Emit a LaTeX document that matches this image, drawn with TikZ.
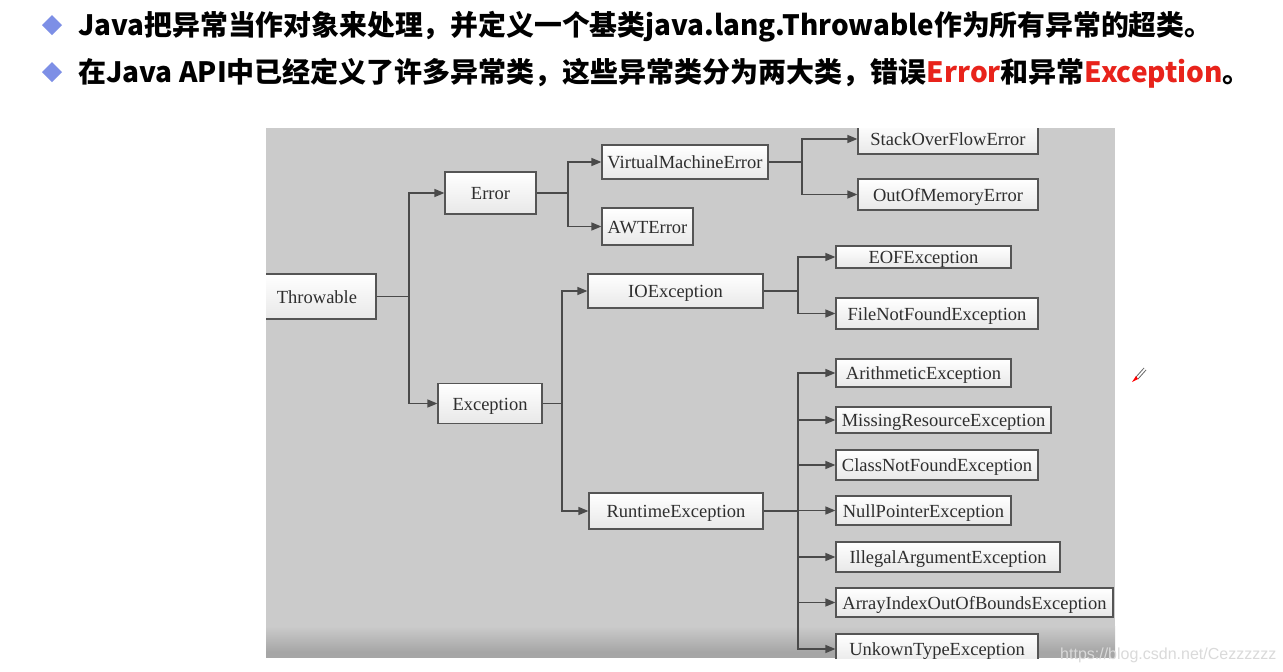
\documentclass[tikz,border=0pt]{standalone}
\usepackage{fontspec}
\setmainfont{Liberation Serif}
\newfontfamily\cjk{Noto Sans CJK SC}
\newfontfamily\wm{Liberation Sans}
\usetikzlibrary{arrows.meta}
\definecolor{panel}{HTML}{CBCBCB}
\definecolor{boxline}{HTML}{555555}
\definecolor{boxbot}{HTML}{E8E8E8}
\definecolor{boxtext}{HTML}{2E2E2E}
\definecolor{linec}{HTML}{4A4A4A}
\definecolor{dia}{HTML}{7D8FE6}
\definecolor{errred}{HTML}{E8231B}
\definecolor{wmc}{HTML}{DADADA}
\tikzset{
  box/.style={draw=boxline, line width=1.2pt, top color=white, bottom color=boxbot,
    inner sep=0pt, font=\fontsize{18.5}{20}\selectfont, text=boxtext, anchor=center,
    text height=15pt, text depth=2pt},
  conn/.style={draw=linec, line width=1.4pt},
  arr/.style={conn, -{Triangle[length=10pt,width=8pt]}},
  headline/.style={anchor=base west, inner sep=0pt, font=\cjk\bfseries\fontsize{28}{30}\selectfont},
  bullet/.style={fill=dia, draw=none},
}
\begin{document}
\begin{tikzpicture}[x=1pt,y=-1pt]
\useasboundingbox (0,0) rectangle (1283,672);
\fill[white] (0,0) rectangle (1283,672);
% header
\fill[bullet] (52,15) -- (62,25) -- (52,35) -- (42,25) -- cycle;
\fill[bullet] (52,62) -- (62,72) -- (52,82) -- (42,72) -- cycle;
\node[headline, xscale=0.994] (l1) at (78,35) {Java把异常当作对象来处理，并定义一个基类java.lang.Throwable作为所有异常的超类。};
\node[headline] (l2) at (78,82) {在Java API中已经定义了许多异常类，这些异常类分为两大类，错误{\color{errred}Error}和异常{\color{errred}Exception}。};
% panel
\fill[panel] (266,128) rectangle (1115,658);
\shade[top color=panel, bottom color=black!35] (266,626) rectangle (1115,652);
\fill[black!35] (266,652) rectangle (1115,658);
\begin{scope}
\clip (266,128) rectangle (1115,658);
\node[box, minimum width=118pt, minimum height=45pt] (thr) at (317,296.5) {Throwable};
\node[box, minimum width=91pt, minimum height=42pt] (err) at (490.5,193) {Error};
\node[box, minimum width=104pt, minimum height=40pt] (exc) at (490,403.5) {Exception};
\node[box, minimum width=166pt, minimum height=34pt] (vme) at (685,162) {VirtualMachineError};
\node[box, minimum width=91pt, minimum height=37pt] (awt) at (647.5,226.5) {AWTError};
\node[box, minimum width=175pt, minimum height=34pt] (io) at (675.5,291) {IOException};
\node[box, minimum width=174pt, minimum height=36pt] (rt) at (676,511) {RuntimeException};
\node[box, minimum width=180pt, minimum height=30pt] (sof) at (948,139) {StackOverFlowError};
\node[box, minimum width=180pt, minimum height=31pt] (oom) at (948,194.5) {OutOfMemoryError};
\node[box, minimum width=175pt, minimum height=22pt] (eof) at (923.5,257) {EOFException};
\node[box, minimum width=202pt, minimum height=31pt] (fnf) at (937,313.5) {FileNotFoundException};
\node[box, minimum width=175pt, minimum height=28pt] (ari) at (923.5,373) {ArithmeticException};
\node[box, minimum width=215pt, minimum height=26pt] (mis) at (943.5,420) {MissingResourceException};
\node[box, minimum width=202pt, minimum height=30pt] (cnf) at (937,465) {ClassNotFoundException};
\node[box, minimum width=175pt, minimum height=29pt] (nul) at (923.5,510.5) {NullPointerException};
\node[box, minimum width=224pt, minimum height=30pt] (ill) at (948,557) {IllegalArgumentException};
\node[box, minimum width=277pt, minimum height=29pt] (arr) at (974.5,602.5) {ArrayIndexOutOfBoundsException};
\node[box, minimum width=202pt, minimum height=30pt] (unk) at (937,649) {UnkownTypeException};
% junctions
\coordinate (j1) at (409,296.5);
\coordinate (j2) at (568,193);
\coordinate (j3) at (802,162);
\coordinate (j4) at (562,403.5);
\coordinate (j5) at (798,291);
\coordinate (j6) at (798,511);
\draw[conn] (thr.east) -- (j1);
\draw[arr] (j1) |- (err.west);
\draw[arr] (j1) |- (exc.west);
\draw[conn] (err.east) -- (j2);
\draw[arr] (j2) |- (vme.west);
\draw[arr] (j2) |- (awt.west);
\draw[conn] (vme.east) -- (j3);
\draw[arr] (j3) |- (sof.west);
\draw[arr] (j3) |- (oom.west);
\draw[conn] (exc.east) -- (j4);
\draw[arr] (j4) |- (io.west);
\draw[arr] (j4) |- (rt.west);
\draw[conn] (io.east) -- (j5);
\draw[arr] (j5) |- (eof.west);
\draw[arr] (j5) |- (fnf.west);
\draw[conn] (rt.east) -- (j6);
\foreach \n in {ari,mis,cnf,nul,ill,arr,unk} {\draw[arr] (j6) |- (\n.west);}
\end{scope}
% pen cursor
\draw[black!60, line width=0.8pt] (1136,377) -- (1144,368) (1138,379) -- (1146,370);
\fill[red] (1132,382) -- (1136,376) -- (1138,379) -- cycle;
% watermark
\node[anchor=base west, inner sep=0pt, font=\wm\fontsize{16}{18}\selectfont, text=wmc] (wmk) at (1060,659) {https://blog.csdn.net/Cezzzzzz};
\end{tikzpicture}
\end{document}
